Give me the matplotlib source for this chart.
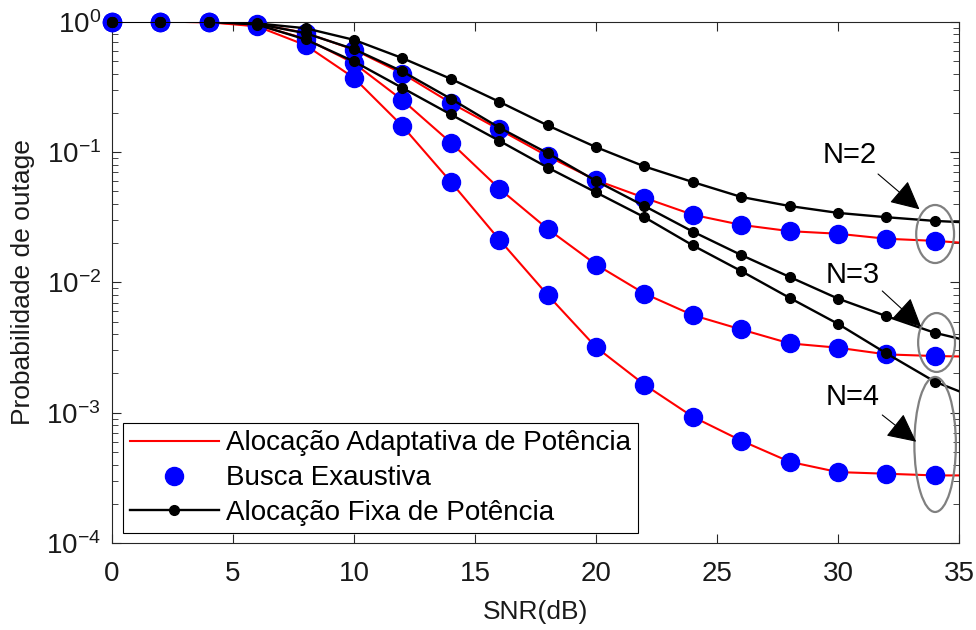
import numpy as np
import matplotlib
matplotlib.use('Agg')
import matplotlib.pyplot as plt
from matplotlib.patches import Ellipse
from matplotlib.lines import Line2D

plt.rcParams['font.family'] = ['Liberation Sans', 'DejaVu Sans']
plt.rcParams['mathtext.fontset'] = 'custom'
plt.rcParams['mathtext.rm'] = 'Liberation Sans'
plt.rcParams['mathtext.it'] = 'Liberation Sans:italic'
plt.rcParams['mathtext.bf'] = 'Liberation Sans:bold'

# SNR (dB): markers every 2 dB, lines run to 35 dB
snr = [0, 2, 4, 6, 8, 10, 12, 14, 16, 18, 20, 22, 24, 26, 28, 30, 32, 34, 35]

# adaptive allocation (red line) == exhaustive search (blue dots)
adapt_N2 = [1, 1, 0.995, 0.96, 0.82, 0.61, 0.40, 0.238, 0.149, 0.093, 0.0608,
            0.0445, 0.033, 0.0276, 0.0247, 0.0236, 0.0216, 0.0208, 0.0202]
adapt_N3 = [1, 1, 0.99, 0.94, 0.74, 0.48, 0.25, 0.118, 0.0524, 0.0257, 0.0137,
            0.0082, 0.0056, 0.00435, 0.0034, 0.00315, 0.0028, 0.00272, 0.0027]
adapt_N4 = [1, 1, 0.99, 0.92, 0.66, 0.37, 0.158, 0.059, 0.0213, 0.0080, 0.00318,
            0.00164, 0.00093, 0.00061, 0.00042, 0.00035, 0.00034, 0.00033, 0.00033]

# fixed allocation (black)
fixed_N2 = [1, 1, 1, 0.97, 0.89, 0.725, 0.525, 0.364, 0.243, 0.16, 0.109,
            0.0775, 0.0588, 0.0452, 0.0385, 0.0341, 0.0316, 0.0296, 0.029]
fixed_N3 = [1, 1, 1, 0.96, 0.815, 0.615, 0.415, 0.256, 0.154, 0.098, 0.06,
            0.0385, 0.0245, 0.0162, 0.011, 0.0075, 0.0055, 0.0041, 0.0037]
fixed_N4 = [1, 1, 1, 0.95, 0.73, 0.495, 0.31, 0.194, 0.122, 0.076, 0.049,
            0.0316, 0.0192, 0.0122, 0.0076, 0.0048, 0.00285, 0.00173, 0.00146]

legend_labels = ['Alocação Adaptativa de Potência', 'Busca Exaustiva',
                 'Alocação Fixa de Potência']

axc = (0.15, 0.15, 0.15)
nm = 18  # markers only at the 2 dB points

fig = plt.figure(figsize=(9.76, 6.3), dpi=100)
ax = fig.add_axes([0.1148, 0.1381, 0.8678, 0.8275])

for a in [adapt_N2, adapt_N3, adapt_N4]:
    ax.plot(snr, a, color='red', lw=1.5, zorder=2)
for a in [adapt_N2, adapt_N3, adapt_N4]:
    ax.plot(snr[:nm], a[:nm], 'o', color='blue', ms=13, mec='blue', zorder=3,
            clip_on=False)
for f in [fixed_N2, fixed_N3, fixed_N4]:
    ax.plot(snr, f, '-', color='black', lw=1.7, zorder=4)
    ax.plot(snr[:nm], f[:nm], 'o', color='black', ms=7, zorder=4, clip_on=False)

ax.set_yscale('log')
ax.set_xlim(0, 35)
ax.set_ylim(1e-4, 1)
ax.set_xticks([0, 5, 10, 15, 20, 25, 30, 35])

for s in ax.spines.values():
    s.set_color(axc)
    s.set_linewidth(0.8)
ax.tick_params(which='both', direction='in', top=True, right=True, colors=axc,
               labelcolor=(0.1, 0.1, 0.1))
ax.tick_params(which='major', length=6.5, labelsize=20)
ax.tick_params(which='minor', length=4)
ax.tick_params(axis='x', pad=13)
ax.tick_params(axis='y', pad=8)

ax.set_xlabel('SNR(dB)', fontsize=19, labelpad=9, color=(0.1, 0.1, 0.1))
ax.set_ylabel('Probabilidade de outage', fontsize=19, labelpad=8, color=(0.1, 0.1, 0.1))

handles = [Line2D([], [], color='red', lw=1.5),
           Line2D([], [], ls='none', marker='o', color='blue', ms=13),
           Line2D([], [], color='black', lw=1.7, marker='o', ms=7)]
leg = ax.legend(handles, legend_labels, loc='lower left',
                bbox_to_anchor=(0.013, 0.019), borderaxespad=0, fontsize=20,
                fancybox=False, framealpha=1, edgecolor='black',
                handlelength=3.2, handletextpad=0.25, labelspacing=0.32,
                borderpad=0.25)
leg.get_frame().set_linewidth(0.8)
leg.set_zorder(7)

# N labels, arrows and ellipses (axes fraction)
notes = [('N=2', (0.8706, 0.7433), (0.9044, 0.7078), (0.9533, 0.6401),
          (0.9718, 0.5927), 0.0447, 0.1113),
         ('N=3', (0.8741, 0.5141), (0.9094, 0.4834), (0.9553, 0.4149),
          (0.9735, 0.3846), 0.0435, 0.113),
         ('N=4', (0.8747, 0.2791), (0.9094, 0.2455), (0.9494, 0.1943),
          (0.9718, 0.189), 0.049, 0.259)]
for txt, tpos, a0, a1, c, w, h in notes:
    ax.text(tpos[0], tpos[1], txt, transform=ax.transAxes, fontsize=21,
            ha='center', va='center', zorder=6)
    ax.annotate('', xy=a1, xytext=a0, xycoords='axes fraction',
                arrowprops=dict(arrowstyle='-|>,head_length=0.9,head_width=0.45',
                                mutation_scale=20, color='black', lw=0.8,
                                shrinkA=0, shrinkB=0), zorder=6)
    ax.add_patch(Ellipse(c, w, h, transform=ax.transAxes, fill=False,
                         edgecolor=(0.5, 0.5, 0.5), lw=1.6, zorder=5))

fig.savefig('out.png', dpi=100)
